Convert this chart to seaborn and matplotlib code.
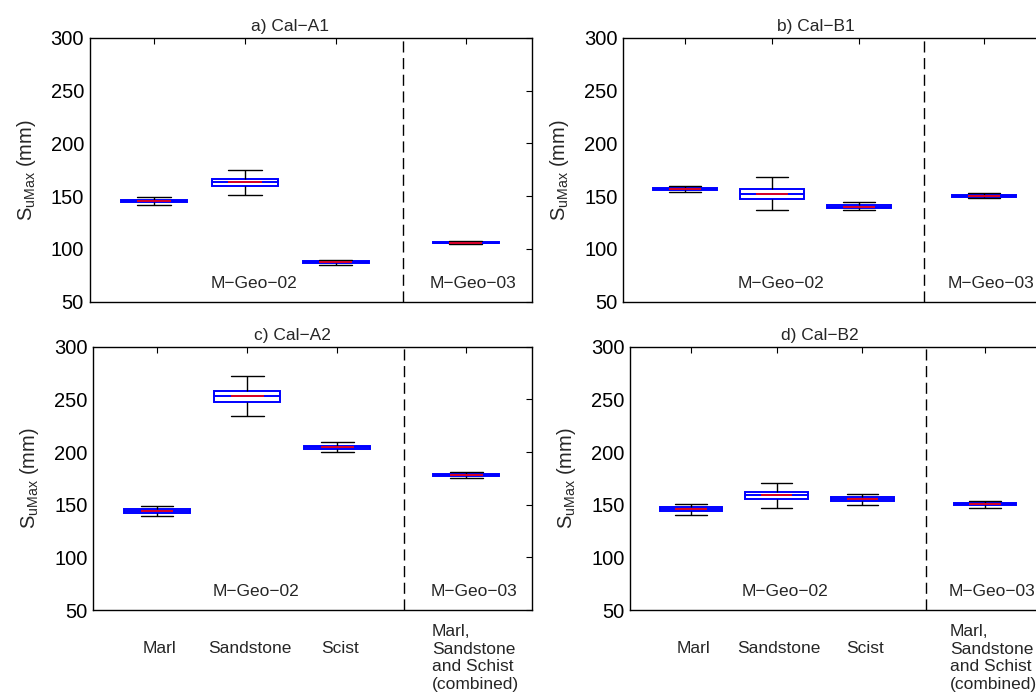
import numpy as np
import pandas as pd
import matplotlib
matplotlib.use("Agg")
import matplotlib.pyplot as plt
import matplotlib.transforms as mtransforms
import seaborn as sns

# categories and x positions
categories = ["Marl", "Sandstone", "Scist", "Marl,\nSandstone\nand Schist\n(combined)"]
positions = [1.0, 2.0, 3.0, 4.43]
group_split = 3.74
group_labels = ["M\u2212Geo\u221202", "M\u2212Geo\u221203"]
group_label_x = [2.1, 4.51]

panel_titles = ["a) Cal\u2212A1", "b) Cal\u2212B1", "c) Cal\u2212A2", "d) Cal\u2212B2"]

# per category: lower whisker, q1, median, q3, upper whisker  (SuMax, mm)
cal_a1 = [[141.6, 144.0, 145.0, 146.3, 148.8],
          [151.0, 159.9, 163.0, 166.2, 174.7],
          [84.8, 86.9, 87.7, 88.5, 89.8],
          [104.8, 105.6, 106.0, 106.5, 107.2]]
cal_b1 = [[153.5, 155.4, 156.7, 158.0, 160.0],
          [136.8, 147.3, 151.6, 156.7, 167.7],
          [136.5, 139.0, 140.0, 141.6, 144.4],
          [148.6, 149.3, 150.2, 151.0, 152.8]]
cal_a2 = [[139.7, 142.5, 144.0, 145.7, 149.1],
          [234.7, 248.0, 253.1, 258.2, 272.1],
          [200.2, 203.0, 204.5, 205.9, 209.4],
          [175.0, 177.0, 178.0, 179.2, 180.8]]
cal_b2 = [[140.6, 143.8, 145.7, 147.6, 151.0],
          [146.7, 155.5, 158.8, 161.9, 171.0],
          [149.8, 153.9, 155.5, 157.4, 160.6],
          [147.3, 149.5, 150.5, 151.7, 153.9]]

yticks = [50, 100, 150, 200, 250, 300]

sns.set_style("white")
plt.rcParams["font.family"] = ["Liberation Sans", "DejaVu Sans"]
plt.rcParams["mathtext.fontset"] = "custom"
plt.rcParams["mathtext.rm"] = "Liberation Sans"
plt.rcParams["xtick.direction"] = "in"
plt.rcParams["ytick.direction"] = "in"
plt.rcParams["xtick.top"] = True
plt.rcParams["ytick.right"] = True
plt.rcParams["axes.edgecolor"] = "black"
plt.rcParams["axes.linewidth"] = 1.0

W, H = 1036, 696
fig = plt.figure(figsize=(W / 100, H / 100), dpi=100)

# panel boxes in pixels: x0, y0, x1, y1
boxes = [(89.5, 37.7, 531.7, 301.7), (623, 37.7, 1047, 301.7),
         (93, 346.8, 531.7, 610), (630, 346.8, 1047, 610)]
panels = [cal_a1, cal_b1, cal_a2, cal_b2]
xlim = (0.29, 5.155)
text_size = 12.5
tick_size = 14.5


def draw_panel(ax, stats, title, show_labels, ax_w_px):
    df = pd.DataFrame({"pos": np.repeat(positions, 5),
                       "value": np.concatenate(stats)})
    sns.boxplot(data=df, x="pos", y="value", native_scale=True, width=0.73,
                whis=(0, 100), color="white", linecolor="black", linewidth=1.0,
                fliersize=0,
                boxprops=dict(facecolor="white", edgecolor="blue", linewidth=1.4),
                medianprops=dict(color="blue", linewidth=1.4),
                ax=ax)
    med = [s[2] for s in stats]
    pos = np.array(positions)
    ax.hlines(med, pos - 0.1825, pos + 0.1825, colors="red", lw=1.2, zorder=6)
    ax.axvline(group_split, color="black", lw=1.0, dashes=(8, 4))

    ax.set_xlim(*xlim)
    ax.set_ylim(50, 300)
    ax.set_yticks(yticks)
    ax.set_xticks(positions)
    ax.set_xticklabels([])
    ax.set_xlabel("")
    ax.tick_params(axis="both", length=4, width=0.8, colors="black")
    ax.tick_params(axis="y", labelsize=tick_size, pad=4)
    ax.set_ylabel(r"S$_{\mathregular{uMax}}$ (mm)", fontsize=tick_size)
    ax.yaxis.set_label_coords(-52 / ax_w_px, 0.5)
    ax.set_title(title, fontsize=text_size, pad=5,
                 x=(2.5 - xlim[0]) / (xlim[1] - xlim[0]))

    trans = mtransforms.blended_transform_factory(ax.transData, ax.transAxes)
    for gx, gl in zip(group_label_x, group_labels):
        ax.text(gx, 0.07, gl, transform=trans, ha="center", va="center",
                fontsize=text_size)

    if show_labels:
        for p, lab in zip(positions, categories):
            multi = "\n" in lab
            ax.text(p + (0.1 if multi else 0.03), -0.1825 if multi else -0.146, lab,
                    transform=trans, ha="center", va="center",
                    multialignment="left", fontsize=text_size, linespacing=1.2,
                    clip_on=False)
    for sp in ax.spines.values():
        sp.set_visible(True)
        sp.set_color("black")


for i, (box, stats, title) in enumerate(zip(boxes, panels, panel_titles)):
    x0, y0, x1, y1 = box
    ax = fig.add_axes([x0 / W, 1 - y1 / H, (x1 - x0) / W, (y1 - y0) / H])
    draw_panel(ax, stats, title, i >= 2, x1 - x0)

fig.savefig("out.png", dpi=100)
